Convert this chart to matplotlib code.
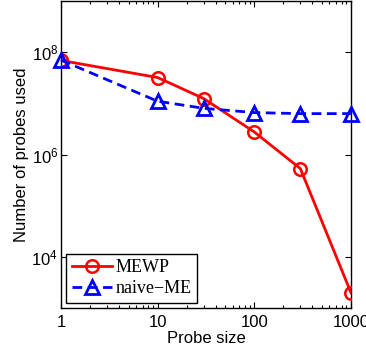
import numpy as np
import matplotlib
matplotlib.use("Agg")
import matplotlib.pyplot as plt
from matplotlib.ticker import FixedLocator, FixedFormatter, LogLocator, NullFormatter

plt.rcParams['font.family'] = ['Liberation Sans', 'DejaVu Sans']
plt.rcParams['mathtext.fontset'] = 'custom'
plt.rcParams['mathtext.rm'] = 'Liberation Sans'
plt.rcParams['mathtext.it'] = 'Liberation Sans'

# Datos
probe_size = [1, 10, 30, 100, 300, 1000]
mewp = [6.9e7, 3.2e7, 1.24e7, 2.76e6, 5.3e5, 2.0e3]
naive_me = [7.0e7, 1.1e7, 8.0e6, 6.6e6, 6.3e6, 6.3e6]

x_ticks = [1, 10, 100, 1000]
x_tick_labels = ['1', '10', '100', '1000']
y_ticks = [1e4, 1e6, 1e8]
y_tick_labels = ['$10^{4}$', '$10^{6}$', '$10^{8}$']

fig = plt.figure(figsize=(3.66, 3.56), dpi=100)
ax = fig.add_axes([0.1667, 0.135, 0.792, 0.862])

ax.plot(probe_size, mewp, color='red', lw=2, marker='o', markersize=9,
        markerfacecolor='none', markeredgewidth=1.8, label='MEWP', zorder=3)
ax.plot(probe_size, naive_me, color='blue', lw=2, ls='--', dashes=(3.5, 2),
        marker='^', markersize=9.5, markerfacecolor='none', markeredgewidth=2,
        label='naive\u2212ME', zorder=4, clip_on=False)

ax.set_xscale('log')
ax.set_yscale('log')
ax.set_xlim(1, 1000)
ax.set_ylim(1e3, 1e9)

ax.xaxis.set_major_locator(FixedLocator(x_ticks))
ax.xaxis.set_major_formatter(FixedFormatter(x_tick_labels))
ax.xaxis.set_minor_locator(LogLocator(base=10, subs=np.arange(2, 10)))
ax.xaxis.set_minor_formatter(NullFormatter())
ax.yaxis.set_major_locator(FixedLocator(y_ticks))
ax.yaxis.set_major_formatter(FixedFormatter(y_tick_labels))
ax.yaxis.set_minor_locator(FixedLocator([]))

ax.tick_params(which='both', direction='in', top=True, right=True,
               labelsize=12, width=0.8)
ax.tick_params(which='major', length=4)
ax.tick_params(axis='x', which='major', pad=5)
ax.tick_params(axis='y', which='major', pad=2)
ax.tick_params(which='minor', length=2)
for s in ax.spines.values():
    s.set_linewidth(1.0)

ax.set_xlabel('Probe size', fontsize=12, labelpad=1)
ax.set_ylabel('Number of probes used', fontsize=12, labelpad=2)

leg = ax.legend(loc='lower left', bbox_to_anchor=(0.0, 0.0),
                prop={'family': 'Liberation Serif', 'size': 13},
                fancybox=False, edgecolor='black', framealpha=1,
                handlelength=2.2, handletextpad=0.2, borderpad=0.3,
                labelspacing=0.2, borderaxespad=0.3)
leg.get_frame().set_linewidth(1.0)

fig.savefig('out.png', dpi=100)
